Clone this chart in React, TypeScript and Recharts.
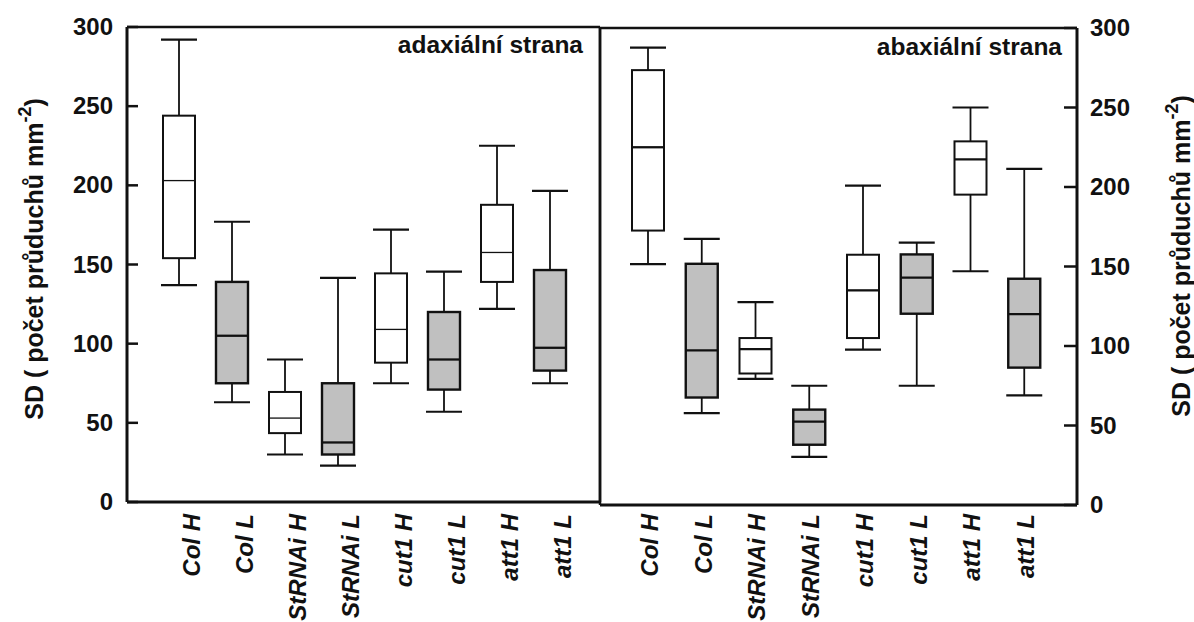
import React from 'react';
import { ComposedChart, Bar, XAxis, YAxis, ReferenceLine } from 'recharts';

const categories = ['Col H', 'Col L', 'StRNAi H', 'StRNAi L', 'cut1 H', 'cut1 L', 'att1 H', 'att1 L'];
const yTicks = [0, 50, 100, 150, 200, 250, 300];

// adaxiální strana (left panel)
const adaxMin = [137, 63, 30, 23, 75, 57, 122, 75];
const adaxQ1 = [154, 75, 43.5, 30, 88, 71, 139, 83];
const adaxMed = [203, 105, 53, 37.6, 109, 90, 157.6, 97.4];
const adaxQ3 = [244, 139, 69.5, 75, 144.4, 120, 187.7, 146.5];
const adaxMax = [292, 177, 90, 141.5, 172, 145.5, 225, 196.5];

// abaxiální strana (right panel)
const abaxMin = [151.5, 57.8, 79.3, 30.3, 97.7, 75, 147, 69];
const abaxQ1 = [172.6, 67.6, 82.7, 37.9, 105, 120.3, 195.2, 86.4];
const abaxMed = [225, 97.3, 98, 52.5, 135, 143, 217.4, 120];
const abaxQ3 = [273.5, 151.7, 105, 60, 157.4, 157.6, 228.7, 142.3];
const abaxMax = [287.7, 167.4, 127.6, 75, 200.9, 165, 250, 211.4];

const FONT = "'Liberation Sans', Arial, sans-serif";
const INK = '#111';
const GRAY = '#c0c0c0';

const buildRows = (mins: number[], q1s: number[], meds: number[], q3s: number[], maxs: number[]) =>
  categories.map((name, i) => ({
    name,
    range: [mins[i], maxs[i]],
    min: mins[i],
    q1: q1s[i],
    med: meds[i],
    q3: q3s[i],
    max: maxs[i],
    gray: i % 2 === 1,
  }));

const adaxData = buildRows(adaxMin, adaxQ1, adaxMed, adaxQ3, adaxMax);
const abaxData = buildRows(abaxMin, abaxQ1, abaxMed, abaxQ3, abaxMax);

// box + whiskers drawn inside the [min, max] range bar given by recharts
const BoxShape = (props: any) => {
  const { x, y, width, height, payload, thinMedian } = props;
  const top = Math.min(y, y + height);
  const h = Math.abs(height);
  const { min, max, q1, med, q3, gray } = payload;
  const toY = (v: number) => top + (h * (max - v)) / (max - min);
  const cx = x + width / 2;
  const cap = width / 2 + 2;
  const boxW = gray ? 2.4 : 2;
  return (
    <g>
      <line x1={cx} x2={cx} y1={toY(max)} y2={toY(q3)} stroke={INK} strokeWidth={1.8} />
      <line x1={cx} x2={cx} y1={toY(q1)} y2={toY(min)} stroke={INK} strokeWidth={1.8} />
      <line x1={cx - cap} x2={cx + cap} y1={toY(max)} y2={toY(max)} stroke={INK} strokeWidth={2.2} />
      <line x1={cx - cap} x2={cx + cap} y1={toY(min)} y2={toY(min)} stroke={INK} strokeWidth={2.2} />
      <rect
        x={x}
        y={toY(q3)}
        width={width}
        height={toY(q1) - toY(q3)}
        fill={gray ? GRAY : '#fff'}
        stroke={INK}
        strokeWidth={boxW}
      />
      <line
        x1={x}
        x2={x + width}
        y1={toY(med)}
        y2={toY(med)}
        stroke={INK}
        strokeWidth={thinMedian && !gray ? 1.3 : 2.3}
      />
    </g>
  );
};

const LeftTick = ({ x, y, payload }: any) => (
  <g>
    <line x1={x} x2={x + 11} y1={y} y2={y} stroke={INK} strokeWidth={2.5} />
    <text x={x - 14} y={y + 8} textAnchor="end" fontSize={24} fontWeight="bold" fontFamily={FONT} fill={INK}>
      {payload.value}
    </text>
  </g>
);

const RightTick = ({ x, y, payload }: any) => (
  <g>
    <line x1={x} x2={x - 13} y1={y} y2={y} stroke={INK} strokeWidth={2.5} />
    <text x={x + 13} y={y + 8} textAnchor="start" fontSize={24} fontWeight="bold" fontFamily={FONT} fill={INK}>
      {payload.value}
    </text>
  </g>
);

const XTick = ({ x, y, payload, shift, drop }: any) => (
  <g transform={`translate(${x + shift},${y + drop}) rotate(-90)`}>
    <text x={0} y={0} textAnchor="end" fontSize={24} fontWeight="bold" fontStyle="italic" fontFamily={FONT} fill={INK}>
      {payload.value}
    </text>
  </g>
);

const AxisTitle = ({ cx, cy }: { cx: number; cy: number }) => (
  <text
    transform={`translate(${cx},${cy}) rotate(-90)`}
    textAnchor="middle"
    fontSize={25}
    fontWeight="bold"
    fontFamily={FONT}
    fill={INK}
  >
    SD ( počet průduchů mm
    <tspan fontSize={18} dy={-12}>-2</tspan>
    <tspan dy={12}>)</tspan>
  </text>
);

const PanelTitle = ({ viewBox, text, inset, drop }: any) => (
  <text
    x={viewBox.x + viewBox.width - inset}
    y={viewBox.y + drop}
    textAnchor="end"
    fontSize={24.5}
    fontWeight="bold"
    fontFamily={FONT}
    fill={INK}
  >
    {text}
  </text>
);

const App: React.FC = () => {
  return (
    <div style={{ position: 'absolute', left: 0, top: 0, width: 1194, height: 622, background: '#fff' }}>
      <div style={{ position: 'absolute', left: 0, top: 0 }}>
        <ComposedChart width={620} height={622} data={adaxData} margin={{ top: 27, right: 0, bottom: 0, left: 0 }}>
          <XAxis
            dataKey="name"
            type="category"
            height={120}
            padding={{ left: 25, right: 24 }}
            interval={0}
            axisLine={{ stroke: INK, strokeWidth: 3 }}
            tickLine={false}
            tickSize={0}
            tickMargin={0}
            tick={<XTick shift={21} drop={12} />}
          />
          <YAxis
            yAxisId="l"
            domain={[0, 300]}
            ticks={yTicks}
            width={127}
            axisLine={{ stroke: INK, strokeWidth: 3 }}
            tickLine={false}
            tickSize={0}
            tickMargin={0}
            tick={<LeftTick />}
            label={{ content: (p: any) => <AxisTitle cx={p.viewBox.x + 43} cy={259} /> }}
          />
          <YAxis
            yAxisId="r"
            orientation="right"
            domain={[0, 300]}
            width={20}
            axisLine={{ stroke: INK, strokeWidth: 2.5 }}
            tickLine={false}
            tick={false}
          />
          <ReferenceLine
            yAxisId="l"
            y={300}
            stroke={INK}
            strokeWidth={2.5}
            label={{ content: (p: any) => <PanelTitle viewBox={p.viewBox} text="adaxiální strana" inset={17} drop={26} /> }}
          />
          <Bar
            yAxisId="l"
            dataKey="range"
            barSize={32}
            isAnimationActive={false}
            shape={(p: any) => <BoxShape {...p} thinMedian />}
          />
        </ComposedChart>
      </div>
      <div style={{ position: 'absolute', left: 580, top: 0 }}>
        <ComposedChart width={614} height={622} data={abaxData} margin={{ top: 28, right: 0, bottom: 0, left: 0 }}>
          <XAxis
            dataKey="name"
            type="category"
            height={117}
            padding={{ left: 21, right: 26 }}
            interval={0}
            axisLine={{ stroke: INK, strokeWidth: 3 }}
            tickLine={false}
            tickSize={0}
            tickMargin={0}
            tick={<XTick shift={10} drop={9} />}
          />
          <YAxis
            yAxisId="l"
            domain={[0, 300]}
            width={20}
            axisLine={{ stroke: INK, strokeWidth: 2.5 }}
            tickLine={false}
            tick={false}
          />
          <YAxis
            yAxisId="r"
            orientation="right"
            domain={[0, 300]}
            ticks={yTicks}
            width={117}
            axisLine={{ stroke: INK, strokeWidth: 3 }}
            tickLine={false}
            tickSize={0}
            tickMargin={0}
            tick={<RightTick />}
            label={{ content: (p: any) => <AxisTitle cx={p.viewBox.x + 113} cy={256} /> }}
          />
          <ReferenceLine
            yAxisId="r"
            y={300}
            stroke={INK}
            strokeWidth={2.5}
            label={{ content: (p: any) => <PanelTitle viewBox={p.viewBox} text="abaxiální strana" inset={15} drop={27} /> }}
          />
          <Bar
            yAxisId="r"
            dataKey="range"
            barSize={32}
            isAnimationActive={false}
            shape={(p: any) => <BoxShape {...p} />}
          />
        </ComposedChart>
      </div>
    </div>
  );
};

export default App;
